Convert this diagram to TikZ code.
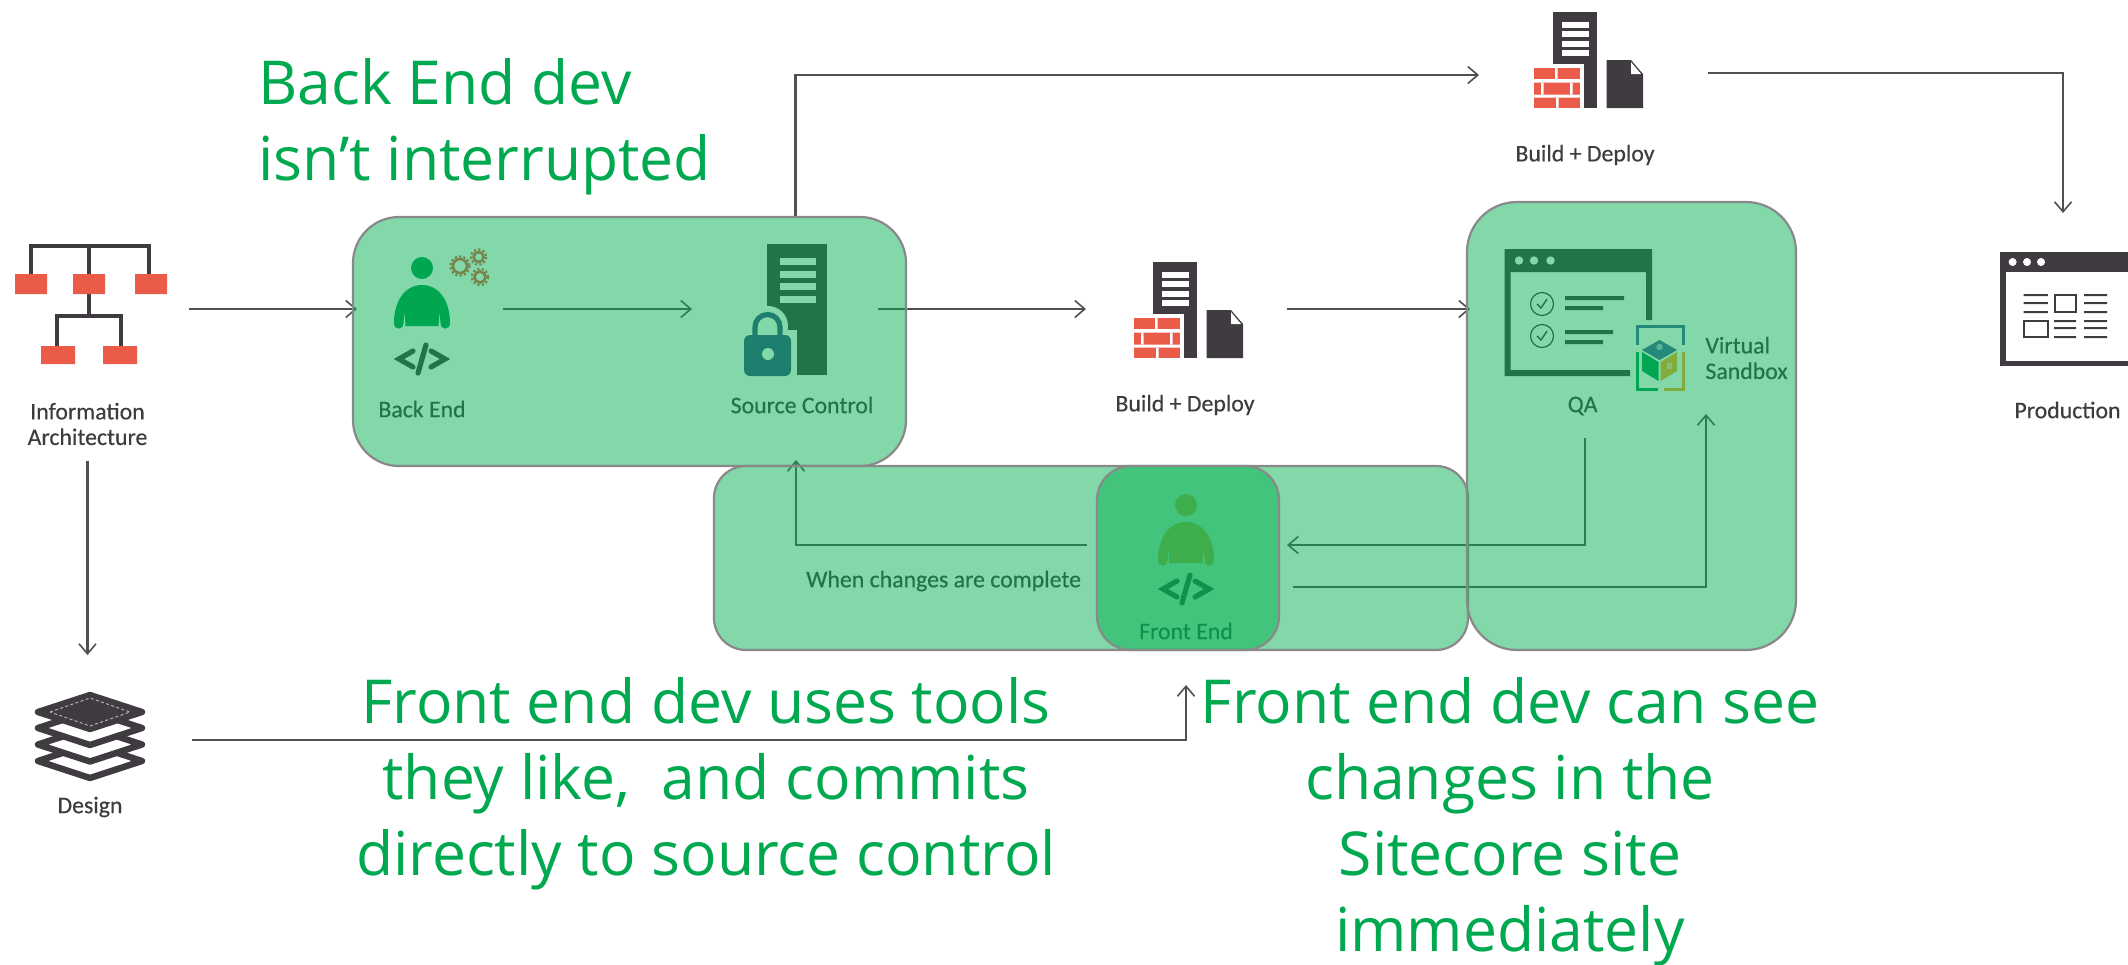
\documentclass[tikz,border=0pt]{standalone}
\usepackage{fontspec}
\usetikzlibrary{arrows.meta}
\newfontfamily\bigfont{Open Sans}
\newfontfamily\smallfont[FakeBold=0.35]{Carlito}
\definecolor{ink}{HTML}{3F3B40}
\definecolor{brick}{HTML}{EA5B4A}
\definecolor{hilite}{HTML}{00B050}
\definecolor{edgegrey}{HTML}{898989}
\definecolor{bigtext}{HTML}{00A94F}
\definecolor{linecol}{HTML}{505050}
\tikzset{
  flow/.style={draw=linecol,line width=1.1pt,line join=miter,-{Straight Barb[length=5pt,width=8.5pt,line width=.8pt]}},
  overlay box/.style={draw=edgegrey,line width=1.1pt,fill=hilite,fill opacity=.49,draw opacity=1,inner sep=0pt},
  lab/.style={font=\smallfont\fontsize{11.9}{13}\selectfont,text=ink,inner sep=0pt,align=center},
  big/.style={font=\bigfont\fontsize{30.3}{38}\selectfont,text=bigtext,inner sep=0pt},
}
\newcommand{\BrickWall}{%
  \fill[white] (-4,-4) rectangle (50,44);
  \fill[brick] (0,0) rectangle (46,40);
  \fill[white] (0,11) rectangle (46,14.5) (0,26.5) rectangle (46,29.5);
  \fill[white] (21,0) rectangle (23.5,11) (7,14.5) rectangle (9.5,26.5) (36,14.5) rectangle (38.5,26.5) (22,29.5) rectangle (24.5,40);
}
\newcommand{\BuildIcon}{%
  \fill[ink] (0,0) rectangle (44,96);
  \foreach \yy in {13,22,32,41}{\fill[white] (8.6,\yy-2.7) rectangle (35.6,\yy+2.7);}
  \begin{scope}[shift={(-19,56)}]\BrickWall\end{scope}
  \fill[ink] (53.5,48) -- (78,48) -- (90,62) -- (90,96) -- (53.5,96) -- cycle;
  \fill[white] (78,50) -- (88,62) -- (78,62) -- cycle;
}
\newcommand{\PersonBody}{%
  \fill (-28,38) .. controls (-28,16) and (-17,0) .. (0,0) .. controls (17,0) and (28,16) .. (28,38)
     .. controls (28,45.5) and (18.5,45.5) .. (18.5,38) -- (17.5,26) -- (16.5,41) -- (-16.5,41) -- (-17.5,26) -- (-18.5,38) .. controls (-18.5,45.5) and (-28,45.5) .. (-28,38) -- cycle;
  \fill (0,-17) circle[radius=11];
}
\newcommand{\CodeIcon}{%
  \draw[line width=2.6pt,line join=miter,line cap=round] (-9,-8) -- (-23,0) -- (-9,8) (9,-8) -- (23,0) -- (9,8) (4,-14) -- (-4,14);
}
\newcommand{\GearIcon}[3]{%
  \draw[brick,line width=1.3pt] (#1,#2) circle[radius=#3];
  \draw[brick,line width=1.1pt,dash pattern=on 1.1pt off 1.1pt] (#1,#2) circle[radius=#3+2.6];
}
\begin{document}
\begin{tikzpicture}[x=.5pt,y=-.5pt]
\useasboundingbox (0,0) rectangle (2128,964);
\clip (0,0) rectangle (2128,964);
\fill[white] (0,0) rectangle (2128,964);

% connector ends
\coordinate (iaOut) at (189,309);
\coordinate (beIn) at (357,309);
\coordinate (iaDown) at (87.5,461);
\coordinate (desTop) at (87.5,655);
\coordinate (beOut) at (503,309);
\coordinate (scIn) at (692,309);
\coordinate (scOut) at (878,309);
\coordinate (bdIn) at (1086,309);
\coordinate (bdOut) at (1287,309);
\coordinate (qaIn) at (1470,309);
\coordinate (scTop) at (795.5,217);
\coordinate (topKnee) at (795.5,75);
\coordinate (topIn) at (1479,75);
\coordinate (topOut) at (1708,73);
\coordinate (prodKnee) at (2063,73);
\coordinate (prodIn) at (2063,213);
\coordinate (qaOut) at (1585,438);
\coordinate (qaKnee) at (1585,545);
\coordinate (feRight) at (1287,545);
\coordinate (feLeft) at (1087,545);
\coordinate (scKnee) at (796,545);
\coordinate (scBottom) at (796,460);
\coordinate (feOut) at (1293,587);
\coordinate (sbKnee) at (1706,587);
\coordinate (sbIn) at (1706,414);
\coordinate (desOut) at (192,740);
\coordinate (feKnee) at (1186,740);
\coordinate (feBottom) at (1186,685);

% Information Architecture icon
\draw[ink,line width=1.9pt] (31,274) -- (31,246) -- (149,246) -- (149,274) (89,246) -- (89,316) (57,346) -- (57,316) -- (121,316) -- (121,346);
\fill[brick] (15,274) rectangle (47,294) (73,274) rectangle (105,294) (135,274) rectangle (167,294) (41,346) rectangle (75,364) (103,346) rectangle (137,364);
\node[lab] (ia) at (87.5,424) {Information\\[-.2pt]Architecture};

% Design icon
\foreach \yy in {761,744.5,728}{
  \draw[ink,line width=3.2pt,fill=white,line join=round] (90-52,\yy) -- (90,\yy-17) -- (90+52,\yy) -- (90,\yy+17) -- cycle;
}
\draw[ink,fill=ink,line width=3.2pt,line join=round] (38,712) -- (90,695) -- (142,712) -- (90,729) -- cycle;
\draw[white!60!ink,line width=.5pt,dash pattern=on 1.5pt off 1.2pt] (50,712) -- (90,698) -- (130,712) -- (90,726) -- cycle;
\node[lab] (design) at (90,807) {Design};

% Back End
\begin{scope}[shift={(422,285)},color={rgb,255:red,0;green,157;blue,80}]\PersonBody\end{scope}
\begin{scope}[shift={(422,359)},color=ink]\CodeIcon\end{scope}
\GearIcon{460}{266}{7}
\GearIcon{478.6}{257}{5}
\GearIcon{480}{277}{5.5}
\node[lab] (beLab) at (422,409) {Back End};

% Source Control
\fill[ink] (767,244) rectangle (827,375);
\foreach \yy in {261,274,286,299}{\fill[white] (780,\yy-3.5) rectangle (815.5,\yy+3.5);}
\fill[white] (738,330) rectangle (797,382);
\fill[white] (768,326) circle[radius=20];
\fill[color={rgb,255:red,61;green,80;blue,139},rounded corners=3pt] (744,335) rectangle (791,376);
\draw[color={rgb,255:red,61;green,80;blue,139},line width=2.6pt] (755,340) -- (755,327) arc[start angle=180,end angle=360,radius=12.5] -- (780,340);
\fill[white] (768,354) circle[radius=6];
\node[lab] (scLab) at (802,405) {Source Control};

% Build + Deploy (lower)
\begin{scope}[shift={(1153,262)}]\BuildIcon\end{scope}
\node[lab] (bdLab) at (1185,405) {Build + Deploy};

% Build + Deploy (upper)
\begin{scope}[shift={(1553,12)}]\BuildIcon\end{scope}
\node[lab] (bdLabTop) at (1585,155) {Build + Deploy};

% QA window
\fill[ink] (1504.5,249) -- (1652,249) -- (1652,320) -- (1646,320) -- (1646,272) -- (1510.5,272) -- (1510.5,370) -- (1630,370) -- (1630,376) -- (1504.5,376) -- cycle;
\foreach \xx in {1519,1534,1550.5}{\fill[white] (\xx,260.5) circle[radius=4.2];}
\foreach \yy in {304,336}{
  \draw[ink,line width=.6pt] (1542,\yy) circle[radius=11.5];
  \draw[ink,line width=.7pt] (1537,\yy) -- (1541,\yy+4) -- (1547,\yy-5);
}
\fill[ink] (1565,296) rectangle (1624,300) (1565,306) rectangle (1603,310) (1565,330) rectangle (1613,334) (1565,340) rectangle (1603,344);
\node[lab] (qaLab) at (1582.6,406) {QA};

% Virtual sandbox
\definecolor{sbtop}{RGB}{72,100,159}
\definecolor{sbgreen}{RGB}{0,157,82}
\definecolor{sbolive}{RGB}{255,172,41}
\draw[sbtop,line width=1.3pt] (1637.5,345) -- (1637.5,326.5) -- (1683.5,326.5) -- (1683.5,345);
\draw[sbgreen,line width=1.3pt] (1637.5,352) -- (1637.5,389.5) -- (1658,389.5);
\draw[sbolive,line width=1.3pt] (1683.5,352) -- (1683.5,389.5) -- (1664,389.5);
\fill[sbtop] (1659.5,340) -- (1677,350) -- (1659.5,360) -- (1642,350) -- cycle;
\fill[sbgreen] (1642,352) -- (1658.5,362) -- (1658.5,381) -- (1642,371) -- cycle;
\fill[sbolive] (1660.5,362) -- (1677,352) -- (1677,371) -- (1660.5,381) -- cycle;
\fill[white,opacity=.55] (1659.5,347) circle[radius=3.2];
\fill[white,opacity=.55] (1667,363) rectangle (1672,369);
\node[lab,align=left,anchor=west] (sbLab) at (1705,358) {Virtual\\[-.2pt]Sandbox};

% Production window (no overlay)
\fill[ink] (2000,252) rectangle (2140,366);
\fill[white] (2005.5,272) rectangle (2140,360.5);
\foreach \xx in {2012.6,2027,2041}{\fill[white] (\xx,262) circle[radius=4];}
\fill[ink] (2023.6,294) rectangle (2047.8,296) (2023.6,302) rectangle (2047.8,304) (2023.6,311) rectangle (2047.8,313)
           (2084,294) rectangle (2107,296) (2084,302) rectangle (2107,304) (2084,311) rectangle (2107,313)
           (2054,320) rectangle (2076,322) (2054,327) rectangle (2076,329) (2054,336) rectangle (2076,338)
           (2084,320) rectangle (2107,322) (2084,327) rectangle (2107,329) (2084,336) rectangle (2107,338);
\draw[ink,line width=1pt] (2054.5,295) rectangle (2076,312) (2024,321) rectangle (2047.8,337);
\node[lab] (prodLab) at (2067.5,410) {Production};

% Front End
\begin{scope}[shift={(1186,522)},color={rgb,255:red,238;green,173;blue,65}]\PersonBody\end{scope}
\begin{scope}[shift={(1186,589)},color=ink]\CodeIcon\end{scope}
\node[lab] (feLab) at (1186,631) {Front End};
\node[lab] (whenLab) at (943.6,581) {When changes are complete};

% connectors
\draw[flow] (iaOut) -- (beIn);
\draw[flow] (iaDown) -- (desTop);
\draw[flow] (beOut) -- (scIn);
\draw[flow] (scOut) -- (bdIn);
\draw[flow] (bdOut) -- (qaIn);
\draw[flow] (scTop) -- (topKnee) -- (topIn);
\draw[flow] (topOut) -- (prodKnee) -- (prodIn);
\draw[flow] (qaOut) -- (qaKnee) -- (feRight);
\draw[flow] (feLeft) -- (scKnee) -- (scBottom);
\draw[flow] (feOut) -- (sbKnee) -- (sbIn);
\draw[flow] (desOut) -- (feKnee) -- (feBottom);

% translucent highlight boxes
\node[overlay box,rounded corners=16pt,minimum width=754pt/2,minimum height=184pt/2] (frontBand) at (1091,558) {};
\node[overlay box,rounded corners=17pt,minimum width=182pt/2,minimum height=184pt/2] (frontBox) at (1188,558) {};
\node[overlay box,rounded corners=23pt,minimum width=553pt/2,minimum height=249pt/2] (backBox) at (629.5,341.5) {};
\node[overlay box,rounded corners=25pt,minimum width=329pt/2,minimum height=448pt/2] (qaBox) at (1631.5,426) {};

% big captions
\node[big,align=left,anchor=west] (capA) at (258,127) {Back End dev\\isn’t interrupted};
\node[big,align=center] (capB) at (706,784) {Front end dev uses tools\\they like,\ \ and commits\\directly to source control};
\node[big,align=center] (capC) at (1510,822) {Front end dev can see\\changes in the\\Sitecore site\\immediately};
\end{tikzpicture}
\end{document}
